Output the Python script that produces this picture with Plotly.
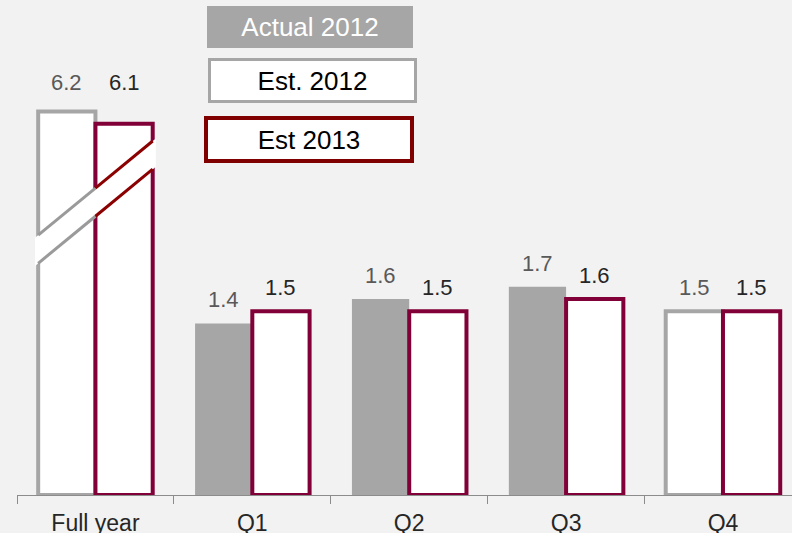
import plotly.graph_objects as go

categories = ["Full year", "Q1", "Q2", "Q3", "Q4"]
actual_2012 = [None, 1.4, 1.6, 1.7, None]
est_2012 = [6.2, None, None, None, 1.5]
est_2013 = [6.1, 1.5, 1.5, 1.6, 1.5]
broken = [True, False, False, False, False]   # Full year bars are drawn on a broken axis
axis_break = 3.07                              # amount removed by the axis break

GRAY = "#A6A6A6"
MAROON = "#820038"
DARKRED = "#800000"
BG = "#F2F2F2"
FONT = "Liberation Sans, Arial, sans-serif"


def shown(vals):
    return [None if v is None else (v - axis_break if b else v) for v, b in zip(vals, broken)]


fig = go.Figure()
fig.add_bar(x=categories, y=shown(actual_2012), offsetgroup="a", name="Actual 2012",
            marker=dict(color=GRAY, line=dict(width=0)))
fig.add_bar(x=categories, y=shown(est_2012), offsetgroup="a", name="Est. 2012",
            marker=dict(color="white", line=dict(color=GRAY, width=4)))
fig.add_bar(x=categories, y=shown(est_2013), offsetgroup="b", name="Est 2013",
            marker=dict(color="white", line=dict(color=MAROON, width=4)))

bargap = 0.27
half = (1 - bargap) / 4  # centre offset of each slot

# labels of the broken group sit at one common height
group_top = {}
for series in (actual_2012, est_2012, est_2013):
    for i, d in enumerate(shown(series)):
        if d is not None and broken[i]:
            group_top[i] = max(group_top.get(i, 0), d)

annotations = []
for series, off, col in ((actual_2012, -half, "#595959"), (est_2012, -half, "#595959"),
                         (est_2013, half, "#262626")):
    disp = shown(series)
    for i, (v, d) in enumerate(zip(series, disp)):
        if v is None:
            continue
        y = group_top[i] if broken[i] else d
        annotations.append(dict(x=i + off, y=y, xref="x", yref="y", text=f"{v:.1f}",
                                 showarrow=False, yanchor="bottom", yshift=15 if broken[i] else 9,
                                 font=dict(size=22, color=col, family=FONT)))

# legend boxes
def px2x(px):
    return (px - 16.5) / 775.5


def py2y(py):
    return (495 - py) / 495

annotations += [
    dict(x=px2x(310), y=py2y(27), xref="paper", yref="paper", text="Actual 2012", showarrow=False,
         xanchor="center", yanchor="middle", width=206, height=42, borderpad=0, borderwidth=0,
         bgcolor=GRAY, font=dict(size=26, color="white", family=FONT)),
    dict(x=px2x(312.5), y=py2y(80.5), xref="paper", yref="paper", text="Est. 2012", showarrow=False,
         xanchor="center", yanchor="middle", width=203, height=39, borderpad=0, borderwidth=3,
         bordercolor=GRAY, bgcolor="white", font=dict(size=26, color="black", family=FONT)),
    dict(x=px2x(309), y=py2y(139.5), xref="paper", yref="paper", text="Est 2013", showarrow=False,
         xanchor="center", yanchor="middle", width=202, height=39, borderpad=0, borderwidth=4,
         bordercolor=DARKRED, bgcolor="white", font=dict(size=26, color="black", family=FONT)),
]

# axis break marks across the Full year bars
bx0, bx1 = -0.385, 0.385
up0, up1 = 2.10, 2.91
lo0, lo1 = 1.87, 2.68
slope = (up1 - up0) / (bx1 - bx0)
bw = 2 * half
shapes = [
    dict(type="path", xref="x", yref="y", layer="above", line=dict(width=0), fillcolor="white",
         path=f"M {bx0} {lo0} L {bx0} {up0} L {bx1} {up1} L {bx1} {lo1} Z"),
]
for y0 in (up0, lo0):
    def yat(x, y0=y0):
        return y0 + slope * (x - bx0)
    shapes.append(dict(type="line", xref="x", yref="y", layer="above", x0=-bw, x1=0,
                       y0=yat(-bw), y1=yat(0), line=dict(color="#9A9A9A", width=3)))
    shapes.append(dict(type="line", xref="x", yref="y", layer="above", x0=0, x1=bw,
                       y0=yat(0), y1=yat(bw), line=dict(color="#8B0000", width=3)))

fig.update_layout(
    width=792, height=533, margin=dict(l=16.5, r=0, t=0, b=38),
    paper_bgcolor=BG, plot_bgcolor=BG, showlegend=False,
    barmode="group", bargap=bargap, bargroupgap=0,
    annotations=annotations, shapes=shapes,
    font=dict(family=FONT),
)
fig.update_xaxes(type="category", range=[-0.5, 4.44], showline=True, linecolor="#8C8C8C", linewidth=1,
                 ticks="outside", tickson="boundaries", ticklen=8, tickcolor="#8C8C8C",
                 ticklabelstandoff=7, automargin=False,
                 tickfont=dict(size=23, color="#262626", family=FONT), showgrid=False)
fig.update_yaxes(range=[0, 4.04], visible=False, showgrid=False, zeroline=False, automargin=False)

fig.write_html("out.html")
